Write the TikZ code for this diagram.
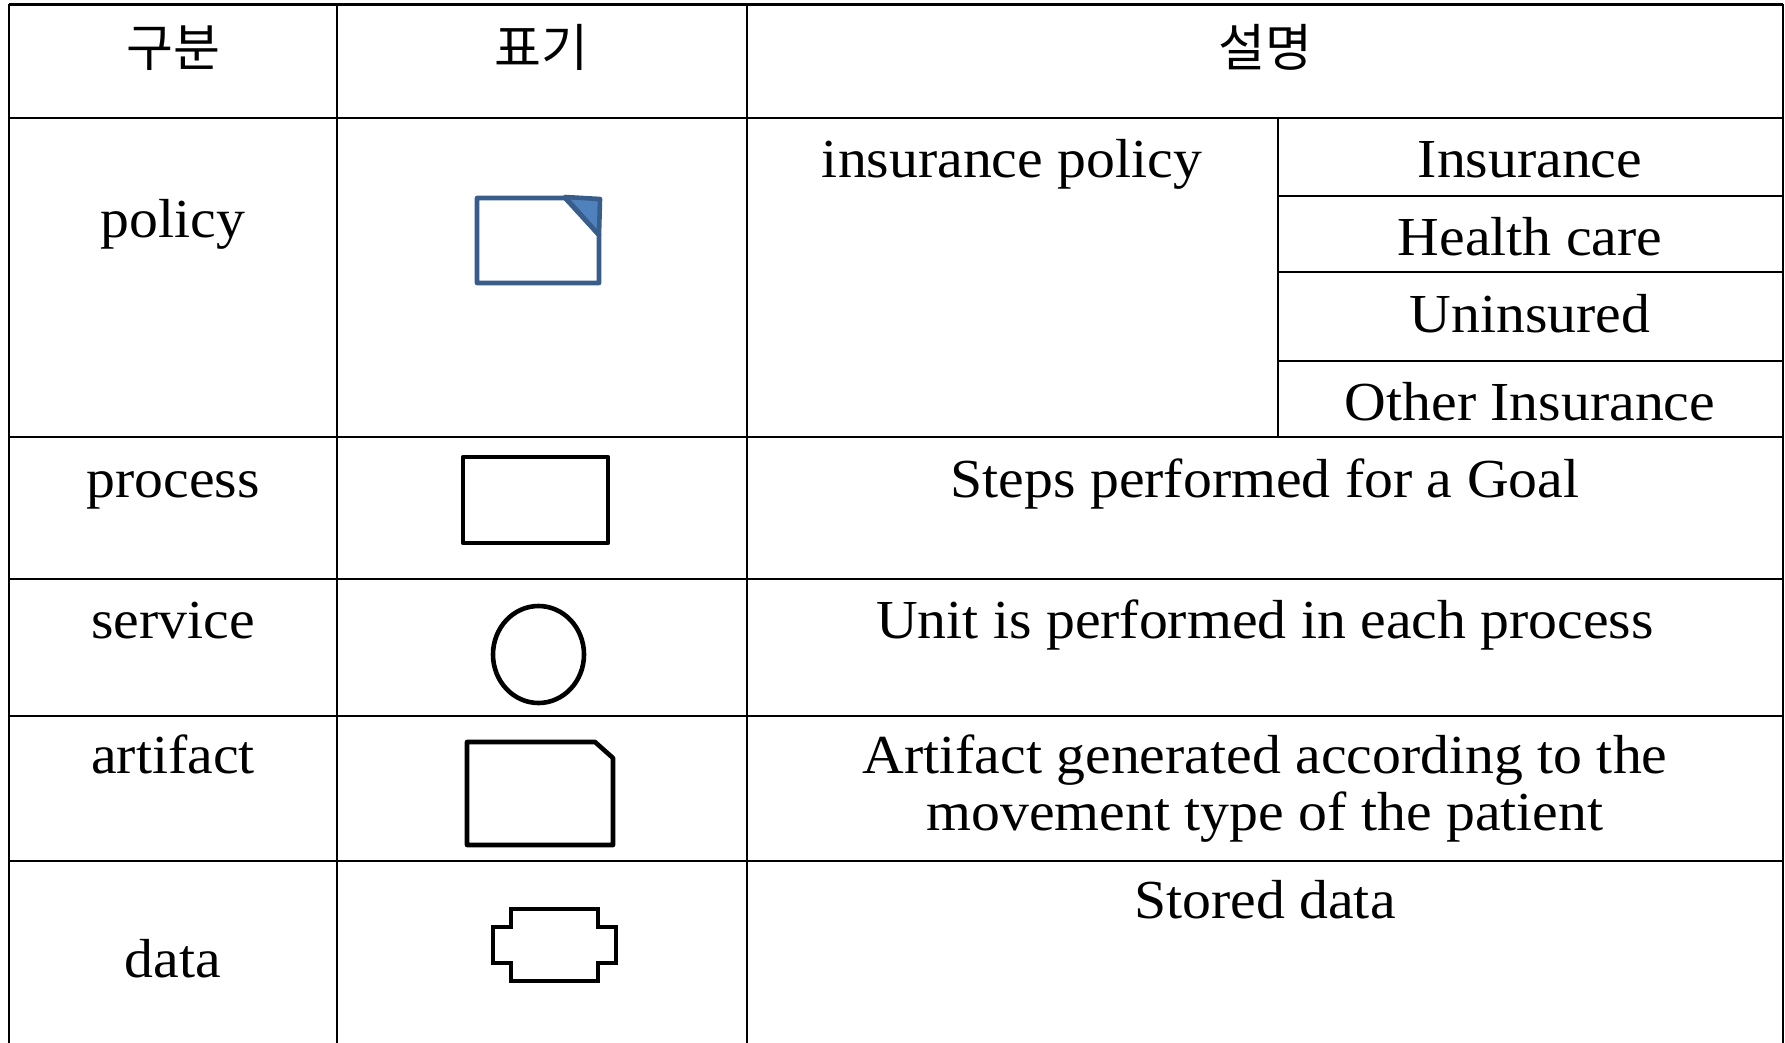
\documentclass[tikz,border=0pt]{standalone}
\usepackage{fontspec}
\setmainfont{Liberation Serif}[FakeStretch=1.05]
\newfontfamily\krfont{Noto Sans CJK KR}
\definecolor{policyline}{HTML}{385D8A}
\definecolor{policyfill}{HTML}{4F81BD}
\begin{document}
\begin{tikzpicture}[x=1pt,y=-1pt,
  grid/.style={line width=2.6pt,black},
  cell/.style={anchor=base,inner sep=0pt,font=\fontsize{55}{57}\selectfont},
  head/.style={anchor=base,inner sep=0pt,font=\krfont\fontsize{51}{53}\selectfont},
  symbol/.style={line width=4.6pt,line join=round,black},
  bluesymbol/.style={line width=4.6pt,line join=round,draw=policyline}]
\useasboundingbox (0,0) rectangle (1785,1043);

% table rules
\draw[grid] (9,4.5) -- (1783,4.5);
\draw[grid] (9,118) -- (1783,118);
\draw[grid] (1278,196) -- (1783,196);
\draw[grid] (1278,272) -- (1783,272);
\draw[grid] (1278,361) -- (1783,361);
\draw[grid] (9,437) -- (1783,437);
\draw[grid] (9,579) -- (1783,579);
\draw[grid] (9,716) -- (1783,716);
\draw[grid] (9,861) -- (1783,861);
\draw[grid] (9,4.5) -- (9,1043);
\draw[grid] (337,4.5) -- (337,1043);
\draw[grid] (747,4.5) -- (747,1043);
\draw[grid] (1278,118) -- (1278,437);
\draw[grid] (1783,4.5) -- (1783,1043);

% header row
\node[head] (h1) at (173,67) {구분};
\node[head] (h2) at (541,67) {표기};
\node[head] (h3) at (1265,67) {설명};

% first column
\node[cell] (c1) at (173,237) {policy};
\node[cell] (c2) at (173,497) {process};
\node[cell] (c3) at (173,638) {service};
\node[cell] (c4) at (173,773) {artifact};
\node[cell] (c5) at (173,977) {data};

% descriptions
\node[cell] (d1) at (1012,178) {insurance policy};
\node[cell] (s1) at (1530,178) {Insurance};
\node[cell] (s2) at (1530,255) {Health care};
\node[cell] (s3) at (1530,332) {Uninsured};
\node[cell] (s4) at (1530,420) {Other Insurance};
\node[cell] (d2) at (1265,497) {Steps performed for a Goal};
\node[cell] (d3) at (1265,638) {Unit is performed in each process};
\node[cell] (d4a) at (1265,773) {Artifact generated according to the};
\node[cell] (d4b) at (1265,830) {movement type of the patient};
\node[cell] (d5) at (1265,918) {Stored data};

% policy symbol: page with folded corner
\draw[bluesymbol,fill=white] (477,198) -- (565,198) -- (599,235) -- (599,283) -- (477,283) -- cycle;
\draw[bluesymbol,fill=policyfill] (565,197) -- (600,199) -- (599,235) -- cycle;

% process symbol
\draw[symbol] (463,457) rectangle (608,543);

% service symbol
\draw[symbol] (538.5,654.5) ellipse [x radius=45.5,y radius=48.5];

% artifact symbol
\draw[symbol] (467,742) -- (595,742) -- (613,758) -- (613,845) -- (467,845) -- cycle;

% data symbol
\draw[symbol,line join=miter] (511,909) -- (598,909) -- (598,927) -- (616,927) -- (616,963)
  -- (598,963) -- (598,981) -- (511,981) -- (511,963) -- (493,963) -- (493,927) -- (511,927) -- cycle;
\end{tikzpicture}
\end{document}
